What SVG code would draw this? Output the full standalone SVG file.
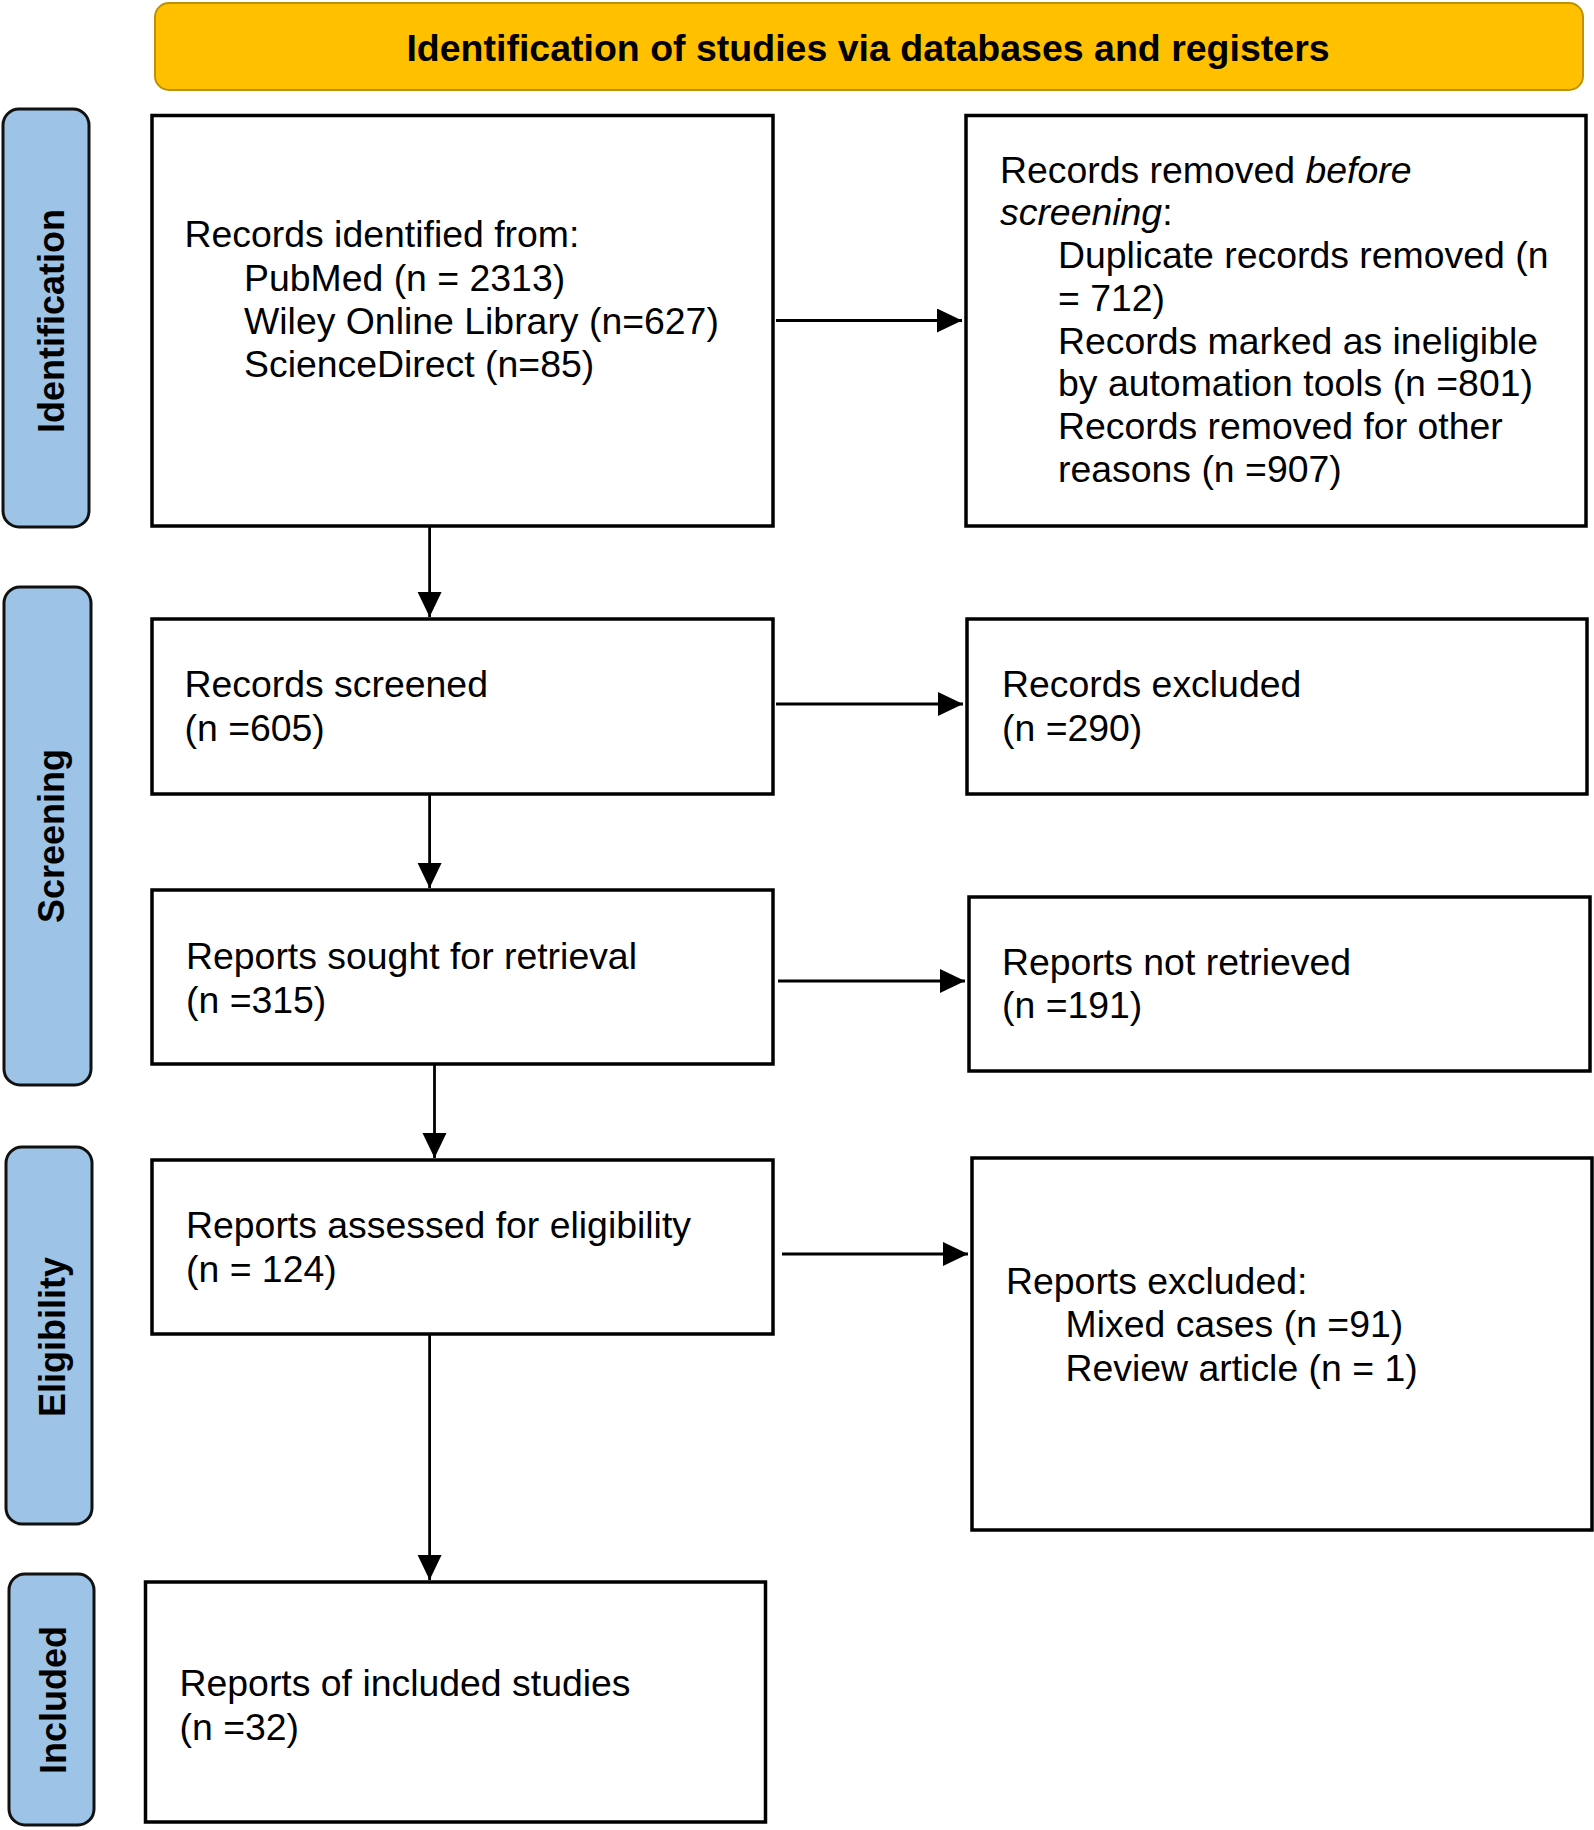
<svg xmlns="http://www.w3.org/2000/svg" width="1594" height="1830" viewBox="0 0 1594 1830">
<style>
.box{fill:#fff;stroke:#000;stroke-width:3.5}
.side{fill:#9DC3E6;stroke:#111;stroke-width:3}
.t{font-family:"Liberation Sans",Arial,sans-serif;font-size:37.4px;fill:#000}
.st{font-family:"Liberation Sans",Arial,sans-serif;font-size:36px;font-weight:bold;fill:#000;text-anchor:middle}
.conn{stroke:#000;stroke-width:2.8;fill:none}
</style>
<defs>
<marker id="ah" markerUnits="userSpaceOnUse" markerWidth="26" markerHeight="26" refX="25" refY="12" orient="auto">
<path d="M0,0 L25,12 L0,24 z" fill="#000"/>
</marker>
</defs>
<rect width="1594" height="1830" fill="#fff"/>
<g id="banner">
<rect x="155" y="3" width="1428" height="87" rx="14" fill="#FFC000" stroke="#BF9000" stroke-width="2"/>
<text x="868" y="61" font-family="'Liberation Sans',Arial,sans-serif" font-size="37.5" font-weight="bold" text-anchor="middle">Identification of studies via databases and registers</text>
</g>
<g id="side-identification">
<rect class="side" x="3" y="109" width="86" height="418" rx="16"/>
<text class="st" transform="translate(63.5,321) rotate(-90)">Identification</text>
</g>
<g id="side-screening">
<rect class="side" x="4" y="587" width="87" height="498" rx="16"/>
<text class="st" transform="translate(63.5,836) rotate(-90)">Screening</text>
</g>
<g id="side-eligibility">
<rect class="side" x="6" y="1147" width="86" height="377" rx="16"/>
<text class="st" transform="translate(64.5,1337) rotate(-90)">Eligibility</text>
</g>
<g id="side-included">
<rect class="side" x="9" y="1574" width="85" height="251" rx="16"/>
<text class="st" transform="translate(66,1700) rotate(-90)">Included</text>
</g>
<g id="records-identified">
<rect class="box" x="152" y="115.5" width="621" height="410.5"/>
<text class="t" x="184.5" y="247">Records identified from:</text>
<text class="t" x="244" y="290.5">PubMed (n = 2313)</text>
<text class="t" x="244" y="333.5">Wiley Online Library (n=627)</text>
<text class="t" x="244" y="377">ScienceDirect (n=85)</text>
</g>
<g id="records-removed">
<rect class="box" x="966" y="115.5" width="620" height="410.5"/>
<text class="t" x="1000" y="183">Records removed <tspan font-style="italic">before</tspan></text>
<text class="t" x="1000" y="225"><tspan font-style="italic">screening</tspan>:</text>
<text class="t" x="1058" y="267.5">Duplicate records removed (n</text>
<text class="t" x="1058" y="310.5">= 712)</text>
<text class="t" x="1058" y="353.5">Records marked as ineligible</text>
<text class="t" x="1058" y="396">by automation tools (n =801)</text>
<text class="t" x="1058" y="438.5">Records removed for other</text>
<text class="t" x="1058" y="481.5">reasons (n =907)</text>
</g>
<g id="records-screened">
<rect class="box" x="152" y="619" width="621" height="175"/>
<text class="t" x="184.5" y="697">Records screened</text>
<text class="t" x="184.5" y="741">(n =605)</text>
</g>
<g id="records-excluded">
<rect class="box" x="967" y="619" width="620" height="175"/>
<text class="t" x="1002" y="697">Records excluded</text>
<text class="t" x="1002" y="741">(n =290)</text>
</g>
<g id="reports-sought">
<rect class="box" x="152" y="890" width="621" height="174"/>
<text class="t" x="186" y="969">Reports sought for retrieval</text>
<text class="t" x="186" y="1013">(n =315)</text>
</g>
<g id="reports-not-retrieved">
<rect class="box" x="969" y="897" width="621" height="174"/>
<text class="t" x="1002" y="974.5">Reports not retrieved</text>
<text class="t" x="1002" y="1018">(n =191)</text>
</g>
<g id="reports-assessed">
<rect class="box" x="152" y="1160" width="621" height="174"/>
<text class="t" x="186" y="1237.5">Reports assessed for eligibility</text>
<text class="t" x="186" y="1281.5">(n = 124)</text>
</g>
<g id="reports-excluded">
<rect class="box" x="972" y="1158" width="620" height="372"/>
<text class="t" x="1006" y="1293.5">Reports excluded:</text>
<text class="t" x="1065.5" y="1337">Mixed cases (n =91)</text>
<text class="t" x="1065.5" y="1380.5">Review article (n = 1)</text>
</g>
<g id="included-studies">
<rect class="box" x="145.5" y="1582" width="620" height="240"/>
<text class="t" x="179.5" y="1696">Reports of included studies</text>
<text class="t" x="179.5" y="1740">(n =32)</text>
</g>
<g id="connectors">
<line class="conn" x1="776" y1="320.5" x2="962" y2="320.5" marker-end="url(#ah)"/>
<line class="conn" x1="429.6" y1="527" x2="429.6" y2="617" marker-end="url(#ah)"/>
<line class="conn" x1="776" y1="704" x2="963" y2="704" marker-end="url(#ah)"/>
<line class="conn" x1="429.6" y1="795" x2="429.6" y2="888" marker-end="url(#ah)"/>
<line class="conn" x1="778" y1="981" x2="965" y2="981" marker-end="url(#ah)"/>
<line class="conn" x1="434.5" y1="1065" x2="434.5" y2="1158" marker-end="url(#ah)"/>
<line class="conn" x1="782" y1="1254" x2="968" y2="1254" marker-end="url(#ah)"/>
<line class="conn" x1="429.6" y1="1335" x2="429.6" y2="1580" marker-end="url(#ah)"/>
</g>
</svg>
